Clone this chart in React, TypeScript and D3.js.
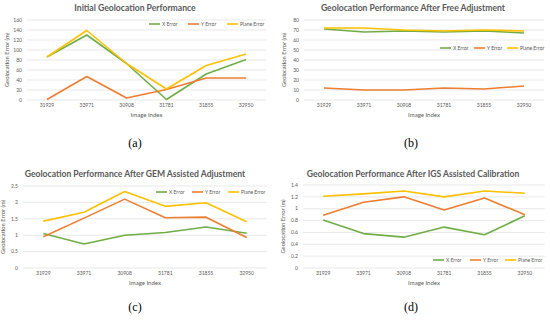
import React from 'react'
import * as d3 from 'd3'

const images = ['31929', '33971', '30908', '31781', '31855', '32950']
const seriesNames = ['X Error', 'Y Error', 'Plane Error']
const colors = ['#70AD47', '#ED7D31', '#FFC000']

// (a) initial
const initX = [86, 130, 73, 1, 52, 81]
const initY = [1, 47, 4, 21, 44, 44]
const initPlane = [86, 139, 73, 22, 69, 92]
// (b) free adjustment
const freeX = [71, 68, 69, 68, 69, 67]
const freeY = [12, 10, 10, 12, 11, 14]
const freePlane = [72, 72, 70, 69, 70, 69]
// (c) GEM assisted
const gemX = [1.05, 0.73, 1.0, 1.08, 1.25, 1.06]
const gemY = [0.95, 1.52, 2.1, 1.53, 1.55, 0.93]
const gemPlane = [1.43, 1.7, 2.33, 1.88, 1.99, 1.41]
// (d) IGS assisted
const igsX = [0.81, 0.58, 0.52, 0.69, 0.56, 0.88]
const igsY = [0.89, 1.11, 1.2, 0.98, 1.18, 0.9]
const igsPlane = [1.21, 1.25, 1.3, 1.2, 1.3, 1.26]

const ticksA = [0, 20, 40, 60, 80, 100, 120, 140, 160]
const ticksB = [0, 10, 20, 30, 40, 50, 60, 70, 80]
const ticksC = [0, 0.5, 1, 1.5, 2, 2.5]
const ticksD = [0, 0.2, 0.4, 0.6, 0.8, 1, 1.2, 1.4]

const panels = [
	{
		title: 'Initial Geolocation Performance',
		caption: '(a)',
		series: [initX, initY, initPlane],
		ticks: ticksA,
		x0: 27, x1: 266, top: 20, bottom: 100, titleY: 11, titleX: 135,
		legend: { x: 149, y: 24, gaps: [0, 39, 78] }, captionX: 135, captionY: 147,
	},
	{
		title: 'Geolocation Performance After Free Adjustment',
		caption: '(b)',
		series: [freeX, freeY, freePlane],
		ticks: ticksB,
		x0: 304, x1: 544, top: 20, bottom: 100, titleY: 11, titleX: 413,
		legend: { x: 440, y: 48, gaps: [0, 34, 67] }, captionX: 411, captionY: 147,
	},
	{
		title: 'Geolocation Performance After GEM Assisted Adjustment',
		caption: '(c)',
		series: [gemX, gemY, gemPlane],
		ticks: ticksC,
		x0: 23, x1: 267, top: 186, bottom: 268, titleY: 177, titleX: 135,
		legend: { x: 156, y: 192, gaps: [0, 36, 72] }, captionX: 135, captionY: 311,
	},
	{
		title: 'Geolocation Performance After IGS Assisted Calibration',
		caption: '(d)',
		series: [igsX, igsY, igsPlane],
		ticks: ticksD,
		x0: 303, x1: 545, top: 185, bottom: 268, titleY: 177, titleX: 413,
		legend: { x: 433, y: 260, gaps: [0, 37, 72] }, captionX: 411, captionY: 311,
	},
]

const textColor = '#595959'
const font = 'Lato, "Open Sans", sans-serif'

const Panel = ({ p }) => {
	const xScale = d3.scalePoint().domain(images).range([p.x0, p.x1]).padding(0.5)
	const yScale = d3
		.scaleLinear()
		.domain([0, d3.max(p.ticks)])
		.range([p.bottom, p.top])
	const line = d3
		.line<number>()
		.x((d, i) => xScale(images[i]))
		.y(d => yScale(d))
	const fmt = d3.format('~g')

	return (
		<g>
			<text x={p.titleX} y={p.titleY} textAnchor="middle" fontSize={8.6} fontWeight="bold" fill={textColor} fontFamily={font}>
				{p.title}
			</text>
			{p.ticks.map(t => (
				<g key={t}>
					<line x1={p.x0} x2={p.x1} y1={yScale(t)} y2={yScale(t)} stroke="#d9d9d9" strokeWidth={0.6} />
					<text x={p.x0 - 5} y={yScale(t)} dy="0.35em" textAnchor="end" fontSize={5} fill={textColor} fontFamily={font}>
						{fmt(t)}
					</text>
				</g>
			))}
			{images.map(c => (
				<text key={c} x={xScale(c)} y={p.bottom + 7} textAnchor="middle" fontSize={5} fill={textColor} fontFamily={font}>
					{c}
				</text>
			))}
			<text x={(p.x0 + p.x1) / 2} y={p.bottom + 17} textAnchor="middle" fontSize={6} fill={textColor} fontFamily={font}>
				Image Index
			</text>
			<text
				transform={`translate(${p.x0 - 18}, ${(p.top + p.bottom) / 2}) rotate(-90)`}
				textAnchor="middle"
				fontSize={5.8}
				fill={textColor}
				fontFamily={font}
			>
				Geolocation Error (m)
			</text>
			{p.series.map((s, i) => (
				<path key={i} d={line(s)} fill="none" stroke={colors[i]} strokeWidth={1.6} strokeLinejoin="round" />
			))}
			{seriesNames.map((n, i) => (
				<g key={n} transform={`translate(${p.legend.x + p.legend.gaps[i]}, ${p.legend.y})`}>
					<line x1={0} x2={11} y1={0} y2={0} stroke={colors[i]} strokeWidth={1.6} />
					<text x={13} y={0} dy="0.35em" fontSize={5} fill={textColor} fontFamily={font}>
						{n}
					</text>
				</g>
			))}
			<text x={p.captionX} y={p.captionY} textAnchor="middle" fontSize={12} fill="#000" fontFamily='"Liberation Serif", serif'>
				{p.caption}
			</text>
		</g>
	)
}

export default function App() {
	return (
		<svg width={550} height={320} style={{ position: 'absolute', left: 0, top: 0, background: '#fff' }}>
			{panels.map(p => (
				<Panel key={p.caption} p={p} />
			))}
		</svg>
	)
}
